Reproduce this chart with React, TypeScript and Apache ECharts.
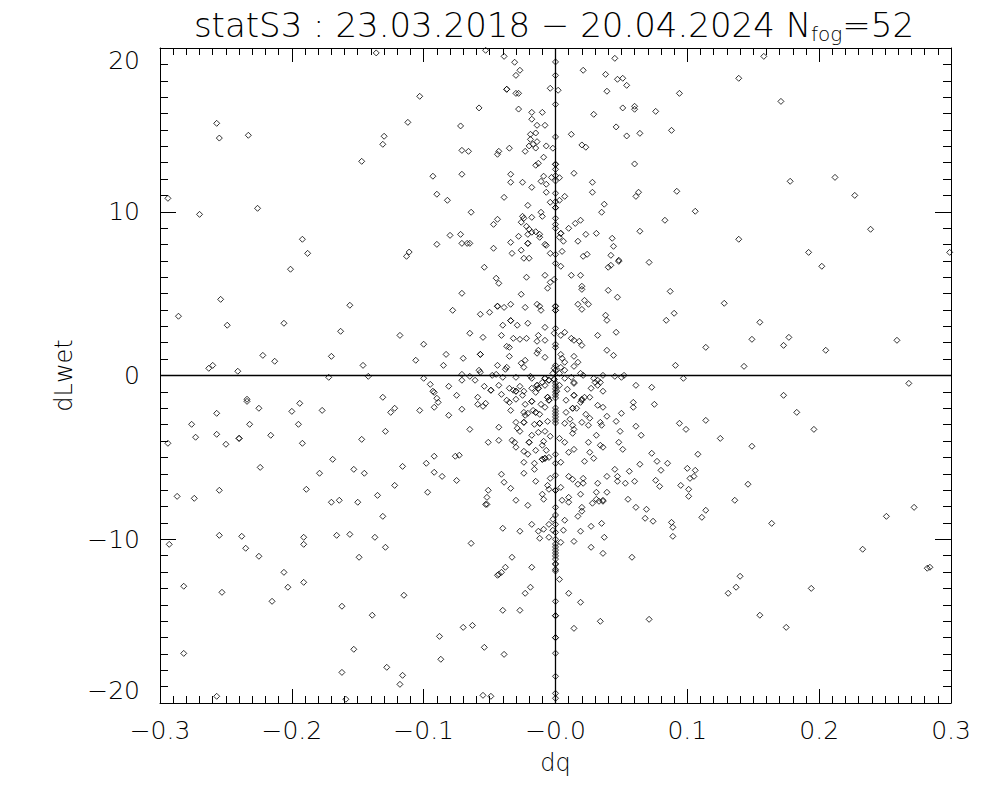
import React, { useEffect, useRef } from "react";
import * as echarts from "echarts";

// ---- data ----
const xTicks = [-0.3, -0.2, -0.1, 0.0, 0.1, 0.2, 0.3];
const yTicks = [-20, -10, 0, 10, 20];

// points with dLwet above about 7
const pointsUpper: number[][] = [
  [-0.136,19.7],[-0.257,15.4],[-0.255,14.5],[-0.233,14.67],[-0.103,17.05],[-0.112,15.46],[-0.130,14.61],[-0.131,14.12],[-0.147,13.08],[-0.294,10.82],[-0.270,9.84],[-0.226,10.21],[-0.192,8.32],[-0.188,7.46],[-0.113,7.28],[-0.111,7.54],
  [-0.053,19.86],[-0.039,19.49],[-0.031,19.13],[-0.027,18.64],[-0.030,18.33],[0.045,19.37],[0.021,18.64],[0.038,18.39],[0.047,18.09],[0.051,18.15],[0.054,17.72],[-0.037,17.48],[-0.037,17.48],[-0.030,17.23],[-0.028,17.23],[-0.004,17.54],[0.002,17.42],[0.039,17.36],[0.094,17.23],[-0.058,16.34],[-0.028,16.27],[-0.018,16.07],[-0.010,16.07],[-0.018,15.65],[-0.014,15.28],[-0.008,15.28],[-0.072,15.24],[0.029,15.95],[0.051,16.34],[0.060,16.44],[0.060,16.26],[0.076,16.13],[0.046,15.18],[0.054,14.63],[0.064,14.79],[0.088,14.97],[0.012,14.73],[0.020,14.08],[0.023,13.94],
  [-0.019,14.73],[-0.015,14.81],[-0.019,14.42],[-0.014,14.28],[-0.020,14.02],[-0.017,14.12],[-0.015,13.89],[-0.007,14.02],[-0.002,13.88],[-0.023,13.69],[-0.035,13.88],[-0.043,13.69],[-0.044,13.51],[-0.071,13.75],[-0.066,13.69],[-0.009,13.33],[-0.015,12.84],[-0.013,12.96],[0.003,12.08],[-0.003,12.10],[-0.009,12.17],[-0.011,11.86],[-0.007,11.68],[-0.018,11.49],[-0.025,11.80],[-0.034,12.29],[-0.034,11.80],[-0.071,12.29],[-0.093,12.17],[0.014,12.35],[0.028,11.80],[0.028,11.19],[0.060,12.92],[0.063,11.19],[0.061,10.94],[0.092,11.25],[-0.090,11.07],[-0.082,10.70],[-0.039,10.88],[-0.007,11.19],[-0.004,10.58],[0.003,10.70],[0.007,10.94],[-0.021,10.39],[-0.064,9.97],[-0.011,9.97],[-0.010,9.72],[-0.018,9.66],[-0.025,9.72],[-0.024,9.60],[-0.026,9.36],[-0.044,9.54],[-0.047,9.23],[0.010,8.99],[0.015,9.29],[0.019,9.48],[0.035,9.97],[0.037,10.46],[0.083,9.48],[0.064,8.81],
  [-0.022,9.11],[-0.020,8.93],[-0.018,8.75],[-0.015,8.78],[-0.021,8.62],[-0.012,8.62],[-0.012,8.44],[-0.028,8.50],[-0.034,8.13],[-0.021,8.07],[-0.021,8.07],[-0.008,8.01],[-0.007,7.95],[0.004,8.68],[0.004,8.68],[0.003,8.44],[0.006,8.20],[0.017,8.20],[0.023,8.62],[0.031,8.68],[0.043,8.38],[0.044,7.89],[-0.080,8.56],[-0.072,8.62],[-0.090,8.01],[-0.071,8.07],[-0.067,8.07],[-0.065,8.07],[-0.047,7.77],[-0.033,7.46],[-0.026,7.65],[-0.024,7.16],[-0.020,7.16],[-0.004,7.46],[0.005,7.58],[0.021,7.28],[0.024,7.40],[0.042,7.34],[0.048,7.04],[0.071,6.91],
  [0.158,19.49],[0.139,18.15],[0.171,16.74],[0.178,11.86],[0.212,12.10],[0.227,11.00],[0.106,10.03],[0.239,8.93],[0.139,8.32],[0.192,7.52],[0.299,7.52],
];

// points with dLwet between about -6.5 and 7
const pointsMiddle: number[][] = [
  [-0.201,6.49],[-0.286,3.62],[-0.254,4.65],[-0.249,3.07],[-0.206,3.19],[-0.156,4.29],[-0.163,2.70],[-0.118,2.45],[-0.100,1.91],[-0.222,1.23],[-0.213,0.87],[-0.170,1.17],[-0.263,0.44],[-0.260,0.62],[-0.241,0.26],[-0.146,0.62],[-0.106,0.93],[-0.172,-0.11],[-0.142,-0.05],[-0.100,-0.17],[-0.131,-1.33],[-0.234,-1.45],[-0.234,-1.58],[-0.194,-1.70],[-0.225,-2.00],[-0.200,-2.19],[-0.257,-2.31],[-0.177,-2.13],[-0.125,-2.25],[-0.122,-2.00],[-0.103,-2.13],[-0.276,-2.98],[-0.232,-2.98],[-0.195,-2.98],[-0.273,-3.77],[-0.257,-3.59],[-0.240,-3.84],[-0.240,-3.84],[-0.216,-3.65],[-0.129,-3.41],[-0.294,-4.14],[-0.250,-4.20],[-0.192,-4.14],[-0.147,-3.90],[-0.169,-5.12],[-0.224,-5.61],[-0.179,-5.97],[-0.153,-5.73],[-0.145,-5.97],[-0.116,-5.55],[-0.098,-5.36],
  [-0.054,6.61],[-0.045,5.94],[-0.043,5.63],[-0.022,6.00],[-0.008,6.12],[-0.004,5.69],[-0.001,5.87],[-0.006,5.33],[0.004,6.67],[0.012,6.12],[0.019,6.12],[0.020,5.45],[0.020,5.26],[0.040,6.61],[0.042,6.73],[0.048,6.97],[0.040,5.20],[0.047,4.78],[0.087,5.14],[-0.071,5.02],[-0.026,4.96],[0.022,4.59],[0.025,4.35],[0.017,4.35],[0.020,4.04],[-0.078,3.98],[-0.057,3.74],[-0.050,3.86],[-0.044,4.23],[-0.044,4.23],[-0.039,4.16],[-0.034,4.35],[-0.023,4.16],[-0.014,4.35],[-0.012,4.23],[-0.011,3.98],[0.038,3.68],[0.039,3.37],[0.090,3.80],[0.084,3.37],[-0.034,3.35],[-0.034,3.35],[-0.040,3.07],[-0.029,3.07],[-0.021,3.19],[-0.008,2.94],
  [-0.065,2.58],[-0.055,2.33],[-0.041,2.45],[-0.032,2.27],[-0.027,2.21],[-0.022,2.27],[-0.013,2.45],[-0.014,2.09],[-0.008,2.15],[-0.001,2.58],[0.007,2.64],[0.004,2.45],[0.012,2.27],[0.014,2.15],[0.018,2.09],[0.020,1.84],[0.032,2.45],[0.046,2.64],[-0.037,1.78],[-0.035,1.72],[-0.013,1.54],[-0.014,1.36],[-0.083,1.29],[-0.070,1.05],[-0.057,1.29],[-0.057,1.29],[-0.035,1.17],[-0.008,1.11],[0.004,1.29],[0.005,1.05],[0.007,0.81],[0.004,0.50],[0.014,1.17],[0.017,0.81],[0.014,0.56],[0.039,1.54],[0.044,1.23],[-0.026,0.75],[-0.023,0.93],[-0.024,0.50],[-0.044,0.62],[-0.037,0.50],[-0.038,0.38],[-0.085,0.62],[-0.058,0.32],[-0.057,0.20],[0.091,0.62],[-0.001,0.44],[-0.002,0.13],[0.003,0.13],[0.007,0.32],[0.007,-0.17],[0.019,0.13],[0.021,0.01],
  [-0.071,0.07],[-0.071,-0.29],[-0.065,-0.05],[-0.061,-0.29],[-0.048,0.01],[-0.045,0.07],[-0.040,-0.11],[-0.030,-0.11],[-0.019,-0.05],[-0.018,-0.17],[-0.008,-0.17],[-0.008,-0.17],[-0.005,-0.29],[-0.005,-0.29],[-0.001,-0.23],[-0.001,-0.23],[0.012,-0.11],[0.014,-0.42],[0.029,-0.17],[0.032,-0.29],[0.034,-0.42],[0.036,0.01],[0.045,-0.05],[0.050,-0.11],[0.052,0.01],[0.097,-0.17],
  [-0.095,-0.54],[-0.093,-0.96],[-0.092,-1.03],[-0.081,-0.66],[-0.075,-1.21],[-0.054,-0.66],[-0.049,-0.90],[-0.049,-0.90],[-0.043,-0.60],[-0.041,-1.15],[-0.035,-0.78],[-0.032,-0.90],[-0.030,-0.96],[-0.030,-0.96],[-0.027,-0.66],[-0.024,-0.96],[-0.025,-1.21],[-0.018,-0.78],[-0.015,-1.03],[-0.014,-0.60],[-0.014,-0.60],[-0.013,-0.78],[-0.013,-0.78],[-0.010,-0.42],[-0.008,-0.60],[-0.006,-1.33],[-0.006,-1.33],[-0.005,-1.51],[-0.005,-1.51],[0.001,-0.96],[0.003,-0.60],[0.009,-0.84],[0.014,-0.48],[0.014,-1.21],[0.014,-1.21],[0.022,-1.33],[0.020,-1.45],[0.026,-1.33],[0.027,-0.78],[0.030,-0.42],[0.032,-0.60],[0.036,-0.96],[0.061,-0.60],[0.073,-0.72],[0.059,-1.64],[0.059,-1.94],[0.075,-1.76],
  [-0.092,-1.94],[-0.090,-1.39],[-0.089,-1.64],[-0.081,-2.43],[-0.071,-2.06],[-0.059,-1.33],[-0.059,-1.76],[-0.055,-1.88],[-0.053,-1.70],[-0.037,-1.51],[-0.035,-1.64],[-0.034,-2.13],[-0.030,-1.45],[-0.023,-1.76],[-0.018,-1.58],[-0.018,-1.58],[-0.024,-2.25],[-0.023,-2.43],[-0.021,-2.31],[-0.017,-2.13],[-0.015,-2.25],[-0.015,-2.25],[-0.011,-1.76],[-0.008,-1.94],[-0.012,-2.37],[0.008,-1.51],[0.008,-2.25],[0.013,-2.00],[0.013,-2.00],[0.016,-2.00],[0.019,-1.64],[0.020,-1.51],[0.023,-2.37],[0.032,-1.82],[0.036,-1.94],[0.039,-2.49],[0.050,-2.31],[0.011,-2.67],[0.026,-2.61],[0.025,-3.04],[0.034,-2.86],[0.035,-3.04],[0.046,-2.80],[0.061,-3.10],[0.094,-2.92],[0.099,-3.29],
  [-0.065,-3.29],[-0.043,-3.16],[-0.030,-2.86],[-0.024,-2.86],[-0.024,-2.86],[-0.016,-2.98],[-0.012,-2.92],[-0.012,-2.92],[-0.029,-3.22],[-0.027,-3.41],[-0.018,-3.65],[-0.013,-3.47],[-0.008,-3.41],[-0.006,-2.80],[-0.004,-3.71],[0.007,-2.92],[0.013,-3.04],[0.014,-3.29],[0.013,-3.53],[0.020,-2.86],[0.031,-3.65],[0.049,-3.41],[0.065,-3.65],
  [-0.051,-4.08],[-0.043,-3.96],[-0.033,-3.96],[-0.031,-4.08],[-0.030,-4.38],[-0.020,-4.08],[-0.020,-4.08],[-0.009,-4.02],[-0.010,-4.26],[-0.007,-4.57],[0.003,-3.84],[0.007,-4.08],[0.014,-4.51],[0.010,-4.69],[0.025,-4.08],[0.026,-4.69],[0.034,-4.26],[0.036,-4.38],[0.048,-4.08],[0.051,-4.51],[0.073,-4.75],[-0.024,-4.63],[-0.021,-4.81],[-0.015,-4.57],[-0.092,-4.93],[-0.076,-4.93],[-0.073,-4.87],
  [-0.024,-5.30],[-0.016,-5.36],[-0.010,-5.12],[-0.010,-5.12],[-0.008,-5.06],[-0.008,-5.06],[-0.005,-5.00],[0.004,-5.30],[0.022,-5.24],[0.029,-5.06],[0.064,-5.42],[0.077,-5.24],[0.085,-5.36],[-0.092,-5.91],[-0.086,-6.16],[-0.041,-6.03],[-0.024,-5.97],[-0.016,-5.73],[0.010,-6.16],[0.021,-6.28],[0.045,-5.73],[0.039,-6.16],[0.056,-5.85],[0.080,-5.79],[0.100,-5.67],
  [0.202,6.67],[0.128,4.41],[0.155,3.25],[0.149,2.21],[0.177,2.33],[0.173,1.84],[0.114,1.72],[0.205,1.54],[0.259,2.15],[0.143,0.56],[0.268,-0.48],[0.173,-1.21],[0.183,-2.25],[0.114,-2.74],[0.125,-3.84],[0.196,-3.29],[0.149,-4.32],[0.108,-4.81],[0.106,-5.79],[0.105,-6.16],[0.102,-6.28],
];

// points with dLwet below about -6.3
const pointsLower: number[][] = [
  [-0.287,-7.38],[-0.274,-7.50],[-0.255,-7.01],[-0.189,-6.95],[-0.170,-7.74],[-0.164,-7.62],[-0.150,-7.74],[-0.135,-7.32],[-0.122,-6.71],[-0.097,-7.13],[-0.131,-8.60],[-0.293,-10.31],[-0.255,-9.76],[-0.238,-9.82],[-0.235,-10.55],[-0.225,-11.04],[-0.191,-9.88],[-0.191,-10.31],[-0.166,-9.76],[-0.156,-9.70],[-0.149,-11.10],[-0.137,-9.88],[-0.129,-10.49],[-0.206,-12.02],[-0.203,-12.93],[-0.191,-12.63],[-0.282,-12.87],[-0.253,-13.24],[-0.215,-13.79],[-0.162,-14.09],[-0.139,-14.64],[-0.115,-13.42],[-0.282,-16.97],[-0.153,-16.72],[-0.162,-18.13],[-0.128,-17.82],[-0.116,-18.31],[-0.118,-18.86],[-0.257,-19.59],[-0.159,-19.77],
  [-0.075,-6.41],[-0.051,-7.01],[-0.052,-7.44],[-0.053,-7.87],[-0.052,-7.87],[-0.039,-6.52],[-0.034,-6.89],[-0.030,-7.62],[-0.021,-7.93],[-0.015,-6.46],[-0.010,-7.25],[-0.009,-7.56],[-0.006,-6.71],[-0.005,-6.95],[-0.004,-6.28],[0.004,-6.83],[0.013,-6.34],[0.010,-7.44],[0.010,-7.74],[0.005,-7.62],[0.017,-6.64],[0.021,-6.58],[0.019,-7.25],[0.032,-6.58],[0.031,-7.13],[0.039,-7.13],[0.031,-7.56],[0.033,-7.68],[0.036,-7.62],[0.036,-7.68],[0.028,-7.80],[0.047,-6.16],[0.047,-6.46],[0.053,-6.58],[0.060,-6.46],[0.076,-6.40],[0.079,-6.77],[0.095,-6.71],[0.101,-6.95],[0.101,-7.38],[0.055,-7.56],[0.061,-8.05],[0.069,-8.17],
  [0.020,-8.05],[0.020,-8.29],[0.017,-8.60],[0.007,-8.84],[-0.002,-8.78],[-0.005,-9.09],[-0.009,-9.39],[-0.013,-9.51],[-0.012,-9.94],[-0.005,-9.88],[-0.018,-9.09],[-0.027,-9.51],[-0.040,-9.33],[-0.002,-9.45],[0.006,-9.45],[0.004,-10.19],[0.019,-9.51],[0.014,-10.13],[0.027,-9.21],[0.035,-9.03],[0.037,-9.88],[0.027,-10.49],[0.036,-10.86],[0.068,-8.72],[0.074,-8.90],[0.088,-8.97],[0.089,-9.27],[0.089,-9.82],[0.058,-11.10],
  [-0.064,-10.25],[-0.033,-11.10],[-0.038,-11.71],[-0.041,-12.02],[-0.043,-12.14],[-0.044,-12.20],[-0.018,-11.71],[0.003,-12.45],[-0.019,-12.93],[-0.023,-13.30],[0.010,-13.30],[0.019,-13.85],[-0.040,-14.34],[-0.027,-14.34],[0.034,-15.01],[0.014,-15.44],[0.071,-14.89],[-0.070,-15.38],[-0.063,-15.26],[-0.088,-15.93],[-0.087,-17.33],[-0.054,-16.60],[-0.039,-17.03],[-0.055,-19.53],[-0.049,-19.59],
  [0.146,-6.64],[0.136,-7.62],[0.114,-8.23],[0.111,-8.66],[0.164,-9.03],[0.233,-10.61],[0.251,-8.60],[0.272,-8.05],[0.282,-11.77],[0.284,-11.71],[0.140,-12.26],[0.137,-12.93],[0.131,-13.30],[0.194,-13.00],[0.155,-14.64],[0.175,-15.38],
];

// dLwet values of the points lying on dq = 0
const zeroDqDLwet: number[] = [
  19.15, 18.33, 16.56, 14.57, 12.90, 12.90, 12.59, 12.20, 11.88, 11.13, 10.61, 10.25, 10.25, 9.60, 9.23, 8.99, 7.40, 6.85,
  4.23, 4.23, 3.98, 3.98, 2.88, 1.91, 1.72, 0.62, 0.32, -0.46, -0.64, -0.82, -1.01, -1.19, -1.37, -1.98, -2.17, -2.35, -2.53, -2.72, -2.90,
  -4.81, -5.36, -6.09, -7.01, -7.01, -8.05, -8.52, -9.09, -9.58, -10.00, -10.29, -10.47, -10.66, -10.84, -11.02, -11.21, -11.51, -11.51, -11.84, -11.94,
  -13.79, -14.67, -14.67, -16.01, -16.01, -16.96, -18.37, -19.41, -19.71,
];

const FONT = "'DejaVu Sans', sans-serif";

function fmtX(v: number): string {
  if (Math.abs(v) < 1e-9) return "\u22120.0";
  const s = Math.abs(v).toFixed(1);
  return v < 0 ? "\u2212" + s : s;
}
function fmtY(v: number): string {
  const r = Math.round(v);
  return r < 0 ? "\u2212" + Math.abs(r) : String(r);
}

export default function App() {
  const ref = useRef<HTMLDivElement>(null);
  useEffect(() => {
    if (!ref.current) return;
    const chart = echarts.init(ref.current, undefined, { renderer: "svg" });
    const allPoints = [
      ...pointsUpper,
      ...pointsMiddle,
      ...pointsLower,
      ...zeroDqDLwet.map((y) => [0, y]),
    ];
    const xStep = xTicks[1] - xTicks[0];
    const yStep = yTicks[1] - yTicks[0];
    const black = "#000";
    const xCommon = {
      type: "value" as const,
      min: xTicks[0],
      max: xTicks[xTicks.length - 1],
      interval: xStep,
      splitLine: { show: false },
      axisLine: { show: true, onZero: false, lineStyle: { color: black, width: 1 } },
      axisTick: { show: true, inside: true, length: 14, lineStyle: { color: black, width: 1 } },
      minorTick: { show: true, splitNumber: 10, length: 7, lineStyle: { color: black, width: 1 } },
      minorSplitLine: { show: false },
    };
    const yCommon = {
      type: "value" as const,
      min: yTicks[0],
      max: yTicks[yTicks.length - 1],
      interval: yStep,
      splitLine: { show: false },
      axisLine: { show: true, onZero: false, lineStyle: { color: black, width: 1 } },
      axisTick: { show: true, inside: true, length: 16, lineStyle: { color: black, width: 1 } },
      minorTick: { show: true, splitNumber: 10, length: 8, lineStyle: { color: black, width: 1 } },
      minorSplitLine: { show: false },
    };
    chart.setOption({
      animation: false,
      backgroundColor: "#ffffff",
      grid: { left: 160, right: 49, top: 48, bottom: 97, containLabel: false },
      graphic: [
        {
          type: "text",
          x: 554,
          y: 26,
          style: {
            text: "{a|statS3 : 23.03.2018 \u2212 20.04.2024 N}{s|fog}{a|=52}",
            align: "center",
            verticalAlign: "middle",
            rich: {
              a: { fontFamily: FONT, fontSize: 34, fontWeight: 200, fill: black, lineHeight: 36, verticalAlign: "top" },
              s: { fontFamily: FONT, fontSize: 20, fontWeight: 200, fill: black, lineHeight: 20, padding: [24, 0, 0, 0], verticalAlign: "bottom" },
            },
          },
        },
      ],
      xAxis: [
        {
          ...xCommon,
          position: "bottom",
          name: "dq",
          nameLocation: "middle",
          nameGap: 48,
          nameTextStyle: { fontFamily: FONT, fontSize: 24, fontWeight: 200, color: black },
          axisLabel: { show: true, margin: 15, formatter: fmtX, fontFamily: FONT, fontSize: 25, fontWeight: 200, color: black },
        },
        { ...xCommon, position: "top", axisLabel: { show: false } },
      ],
      yAxis: [
        {
          ...yCommon,
          position: "left",
          name: "dLwet",
          nameLocation: "middle",
          nameGap: 82,
          nameTextStyle: { fontFamily: FONT, fontSize: 24, fontWeight: 200, color: black },
          axisLabel: {
            show: true,
            margin: 20,
            formatter: fmtY,
            fontFamily: FONT,
            fontSize: 25,
            fontWeight: 200,
            color: black,
            verticalAlignMaxLabel: "top",
            verticalAlignMinLabel: "bottom",
          },
        },
        { ...yCommon, position: "right", axisLabel: { show: false } },
      ],
      series: [
        {
          type: "scatter",
          xAxisIndex: 0,
          yAxisIndex: 0,
          symbol: "diamond",
          symbolSize: 6,
          itemStyle: { color: "rgba(255,255,255,0)", borderColor: black, borderWidth: 1 },
          emphasis: { disabled: true },
          data: allPoints,
          markLine: {
            silent: true,
            symbol: ["none", "none"],
            label: { show: false },
            lineStyle: { color: black, width: 1.3, type: "solid" },
            data: [{ xAxis: 0 }, { yAxis: 0 }],
          },
        },
      ],
    });
    return () => chart.dispose();
  }, []);
  return (
    <div
      ref={ref}
      style={{ position: "fixed", left: 0, top: 0, width: 1000, height: 800, background: "#fff" }}
    />
  );
}
